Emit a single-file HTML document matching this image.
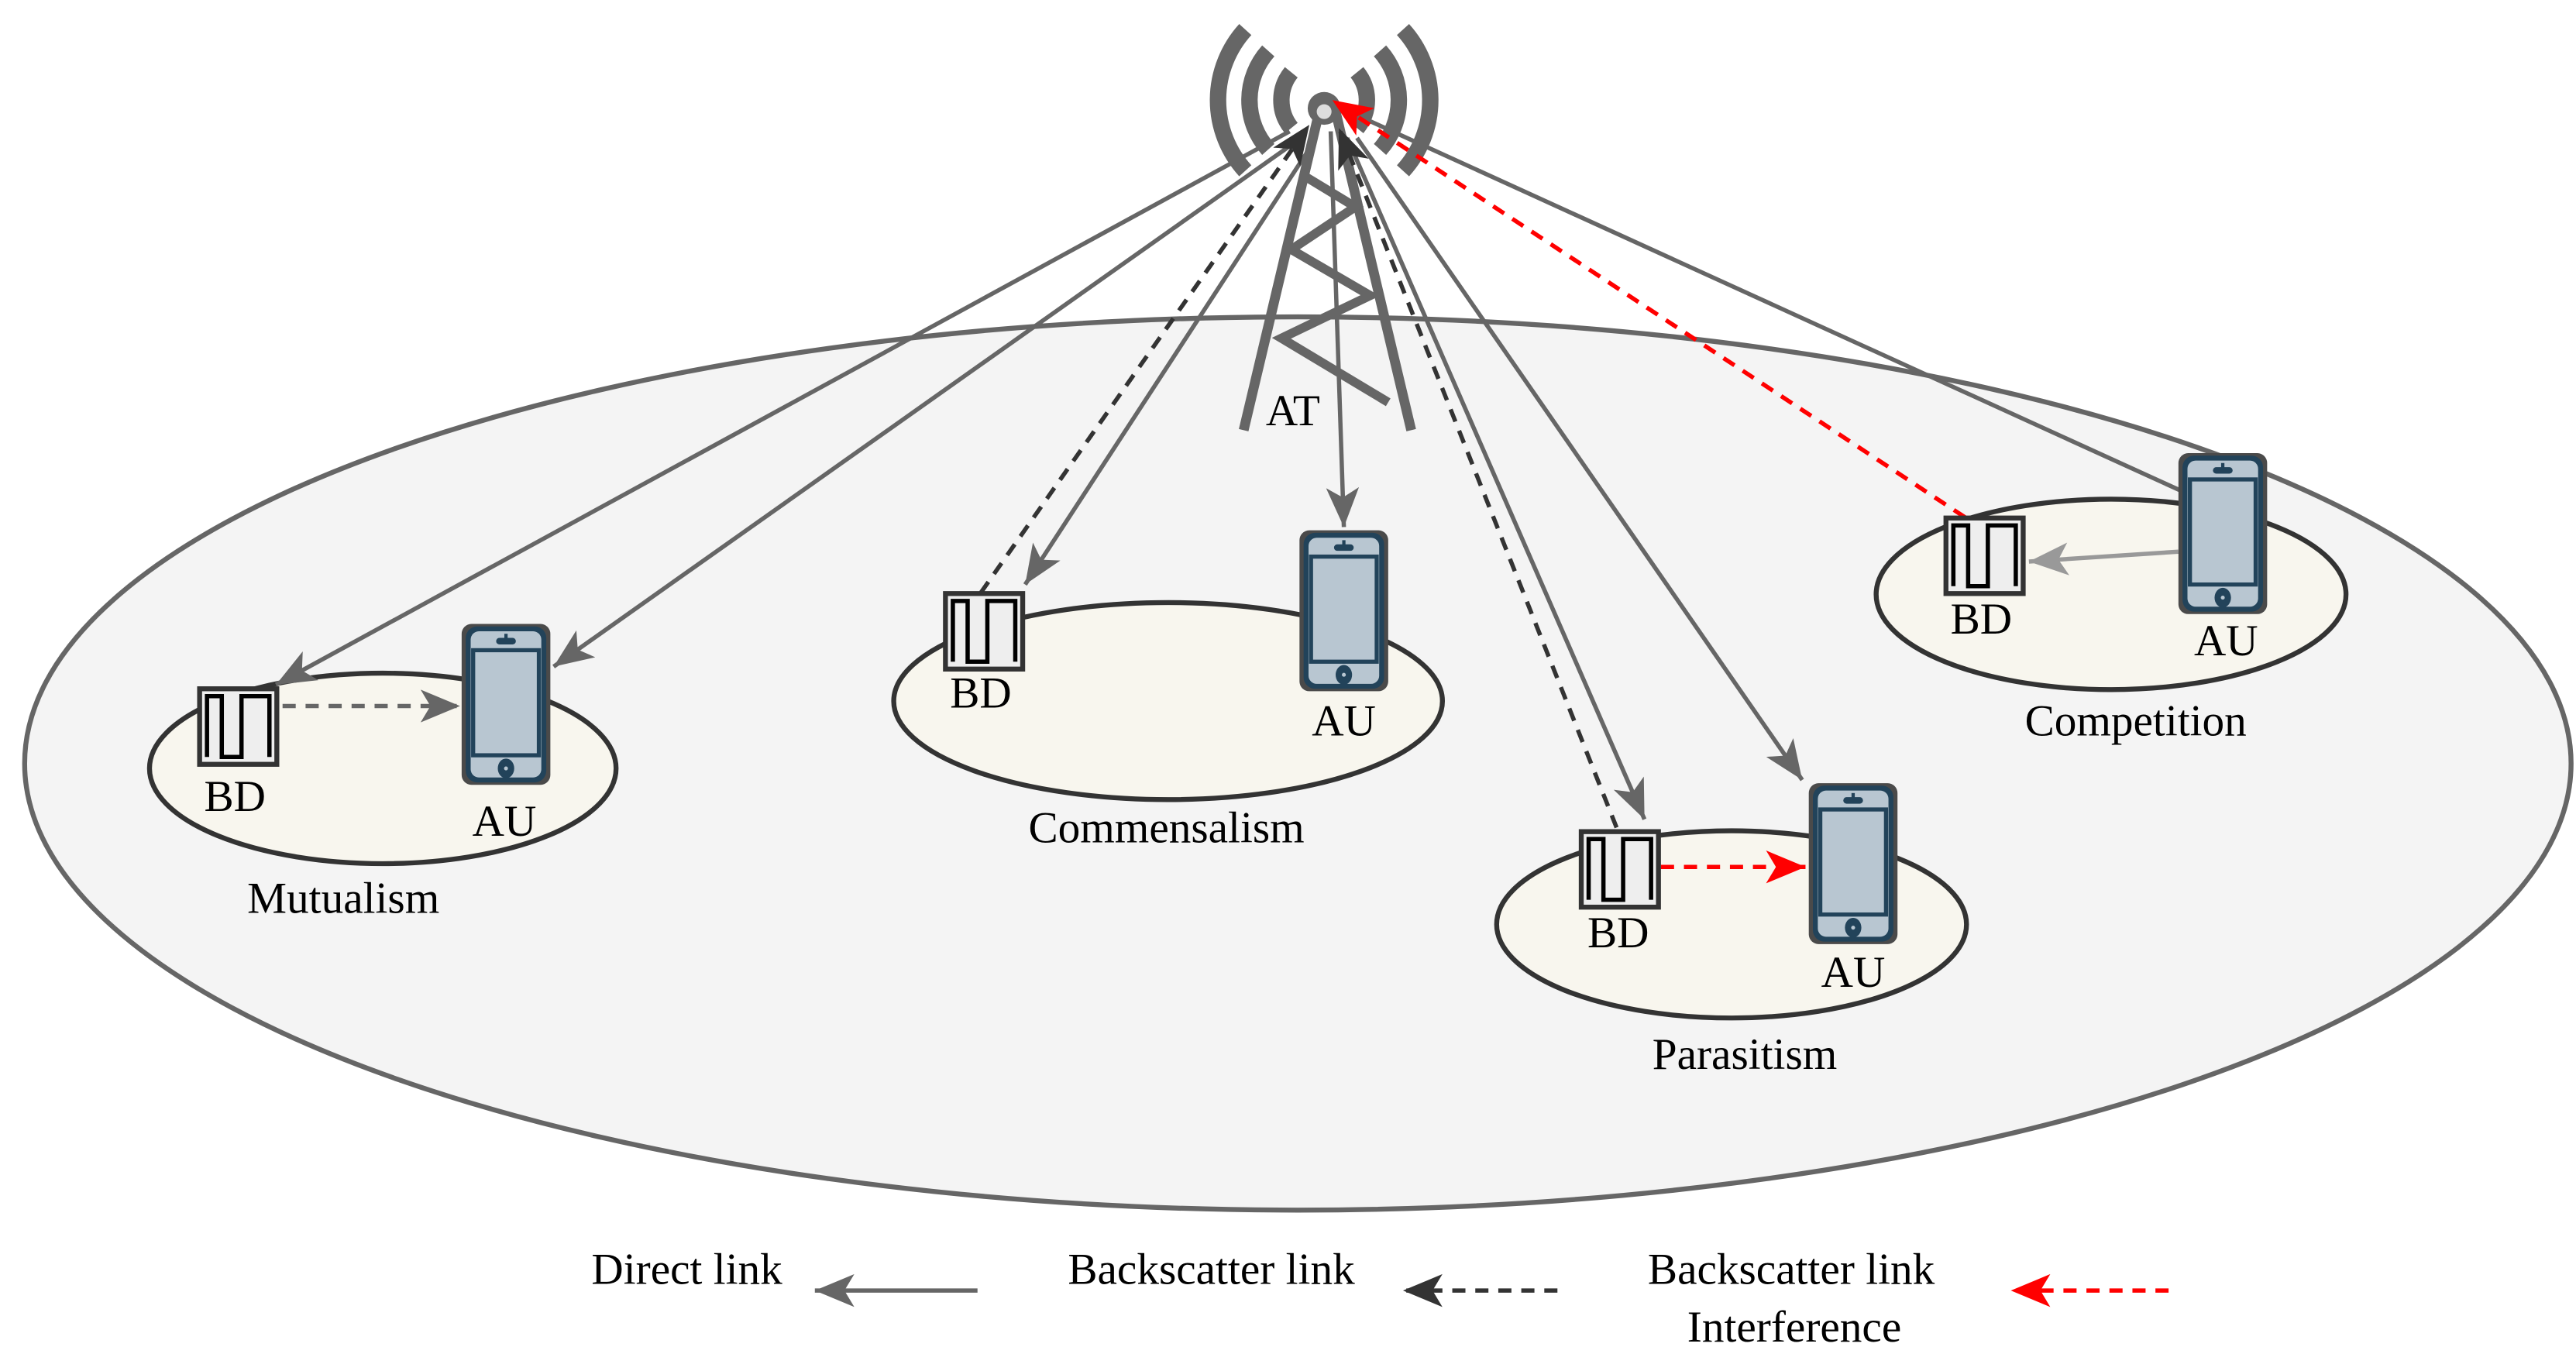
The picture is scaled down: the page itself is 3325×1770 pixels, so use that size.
<!DOCTYPE html>
<html><head><meta charset="utf-8"><style>
html,body{margin:0;padding:0;background:#fff;}
svg{display:block;}
</style></head><body>
<svg width="3325" height="1770" viewBox="0 0 1568 835" preserveAspectRatio="none" xmlns="http://www.w3.org/2000/svg">
<defs>
<marker id="ag" markerUnits="userSpaceOnUse" markerWidth="28" markerHeight="22" refX="24" refY="10" orient="auto"><path d="M0,0 L24,10 L0,20 L6,10 z" fill="#666"/></marker>
<marker id="ad" markerUnits="userSpaceOnUse" markerWidth="28" markerHeight="22" refX="24" refY="10" orient="auto"><path d="M0,0 L24,10 L0,20 L6,10 z" fill="#333"/></marker>
<marker id="ar" markerUnits="userSpaceOnUse" markerWidth="28" markerHeight="22" refX="24" refY="10" orient="auto"><path d="M0,0 L24,10 L0,20 L6,10 z" fill="#f00"/></marker>
<marker id="al" markerUnits="userSpaceOnUse" markerWidth="28" markerHeight="22" refX="24" refY="10" orient="auto"><path d="M0,0 L24,10 L0,20 L6,10 z" fill="#999"/></marker>
<g id="bd">
<rect x="1.5" y="1.5" width="47" height="46" fill="#eee" stroke="#333" stroke-width="3"/>
<path d="M6,43 L6,6 L15,6 L15,43 L27,43 L27,6 L44,6 L44,43" fill="none" stroke="#000" stroke-width="2.6"/>
</g>
<g id="ph">
<rect x="0" y="0" width="54" height="98" rx="6" fill="#4a4a4a"/>
<rect x="2.5" y="1.5" width="49" height="95" rx="7" fill="#22435a"/>
<rect x="5.5" y="4.5" width="43" height="89" rx="5" fill="#b8c6d1"/>
<rect x="7" y="16" width="40" height="64" fill="#b8c6d1" stroke="#22435a" stroke-width="2.5"/>
<rect x="21" y="8.5" width="12" height="4" rx="2" fill="#22435a"/>
<rect x="26" y="6" width="2" height="4" fill="#22435a"/>
<ellipse cx="27" cy="88" rx="5" ry="6" fill="#22435a"/>
<circle cx="27" cy="88" r="1.2" fill="#b8c6d1"/>
</g>
</defs>

<ellipse cx="790" cy="465" rx="775" ry="272" fill="#f4f4f4" stroke="#666" stroke-width="3"/>

<ellipse cx="233" cy="468" rx="142" ry="58" fill="#f8f6ee" stroke="#333" stroke-width="3"/>
<ellipse cx="711" cy="427" rx="167" ry="60" fill="#f8f6ee" stroke="#333" stroke-width="3"/>
<ellipse cx="1054" cy="563" rx="143" ry="57" fill="#f8f6ee" stroke="#333" stroke-width="3"/>
<ellipse cx="1285" cy="362" rx="143" ry="58" fill="#f8f6ee" stroke="#333" stroke-width="3"/>

<g stroke="#666" fill="none">
<line x1="803" y1="68" x2="757" y2="262" stroke-width="6"/>
<line x1="813" y1="68" x2="859" y2="262" stroke-width="6"/>
<polyline points="792,106 825,126 786,152 834,180 780,206 845,245" stroke-width="5.5"/>
</g>
<g stroke="#666" fill="none" stroke-width="10">
<path d="M758,18 A64,64 0 0 0 758,104"/>
<path d="M854,18 A64,64 0 0 1 854,104"/>
<path d="M772,31 A45,45 0 0 0 772,91"/>
<path d="M840,31 A45,45 0 0 1 840,91"/>
<path d="M786,44 A27,27 0 0 0 786,78"/>
<path d="M826,44 A27,27 0 0 1 826,78"/>
</g>
<circle cx="806" cy="66" r="10" fill="#666"/>
<circle cx="806" cy="68" r="4.5" fill="#ddd"/>

<g stroke="#666" stroke-width="2.6" fill="none">
<line x1="785" y1="80" x2="168" y2="417" marker-end="url(#ag)"/>
<line x1="792" y1="84" x2="337" y2="406" marker-end="url(#ag)"/>
<line x1="800" y1="86" x2="624" y2="356" marker-end="url(#ag)"/>
<line x1="810" y1="80" x2="818" y2="321" marker-end="url(#ag)"/>
<line x1="820" y1="84" x2="1001" y2="499" marker-end="url(#ag)"/>
<line x1="826" y1="84" x2="1097" y2="475" marker-end="url(#ag)"/>
<line x1="1330" y1="300" x2="830" y2="72"/>
</g>
<line x1="1326" y1="336" x2="1235" y2="342" stroke="#999" stroke-width="2.6" marker-end="url(#al)"/>

<g stroke-width="2.6" fill="none" stroke-dasharray="8,6">
<line x1="597" y1="361" x2="797" y2="76" stroke="#333" marker-end="url(#ad)"/>
<line x1="984" y1="504" x2="815" y2="78" stroke="#333" marker-end="url(#ad)"/>
<line x1="172" y1="430" x2="280" y2="430" stroke="#666" marker-end="url(#ag)"/>
<line x1="1196" y1="315" x2="811" y2="61" stroke="#f00" marker-end="url(#ar)"/>
<line x1="1011" y1="528" x2="1099" y2="528" stroke="#f00" marker-end="url(#ar)"/>
</g>

<use href="#bd" x="120" y="418"/>
<use href="#ph" x="281" y="380"/>
<use href="#bd" x="574" y="360"/>
<use href="#ph" x="791" y="323"/>
<use href="#bd" x="961" y="505"/>
<use href="#ph" x="1101" y="477"/>
<use href="#bd" x="1183" y="314"/>
<use href="#ph" x="1326" y="276"/>

<g font-family="Liberation Serif, Times New Roman, serif" font-size="27" text-anchor="middle" fill="#000">
<text x="143" y="494">BD</text>
<text x="307" y="509">AU</text>
<text x="209" y="556">Mutualism</text>
<text x="597" y="431">BD</text>
<text x="818" y="448">AU</text>
<text x="787" y="259">AT</text>
<text x="710" y="513">Commensalism</text>
<text x="985" y="577">BD</text>
<text x="1128" y="601">AU</text>
<text x="1062" y="651">Parasitism</text>
<text x="1206" y="386">BD</text>
<text x="1355" y="399">AU</text>
<text x="1300" y="448">Competition</text>
</g>

<g font-family="Liberation Serif, Times New Roman, serif" font-size="27" fill="#000">
<text x="360" y="782">Direct link</text>
<text x="650" y="782">Backscatter link</text>
<text x="1003" y="782">Backscatter link</text>
<text x="1027" y="817">Interference</text>
</g>
<line x1="595" y1="786" x2="496" y2="786" stroke="#666" stroke-width="2.6" marker-end="url(#ag)"/>
<line x1="948" y1="786" x2="854" y2="786" stroke="#333" stroke-width="2.6" stroke-dasharray="8,6" marker-end="url(#ad)"/>
<line x1="1320" y1="786" x2="1224" y2="786" stroke="#f00" stroke-width="2.6" stroke-dasharray="8,6" marker-end="url(#ar)"/>
</svg>
</body></html>
